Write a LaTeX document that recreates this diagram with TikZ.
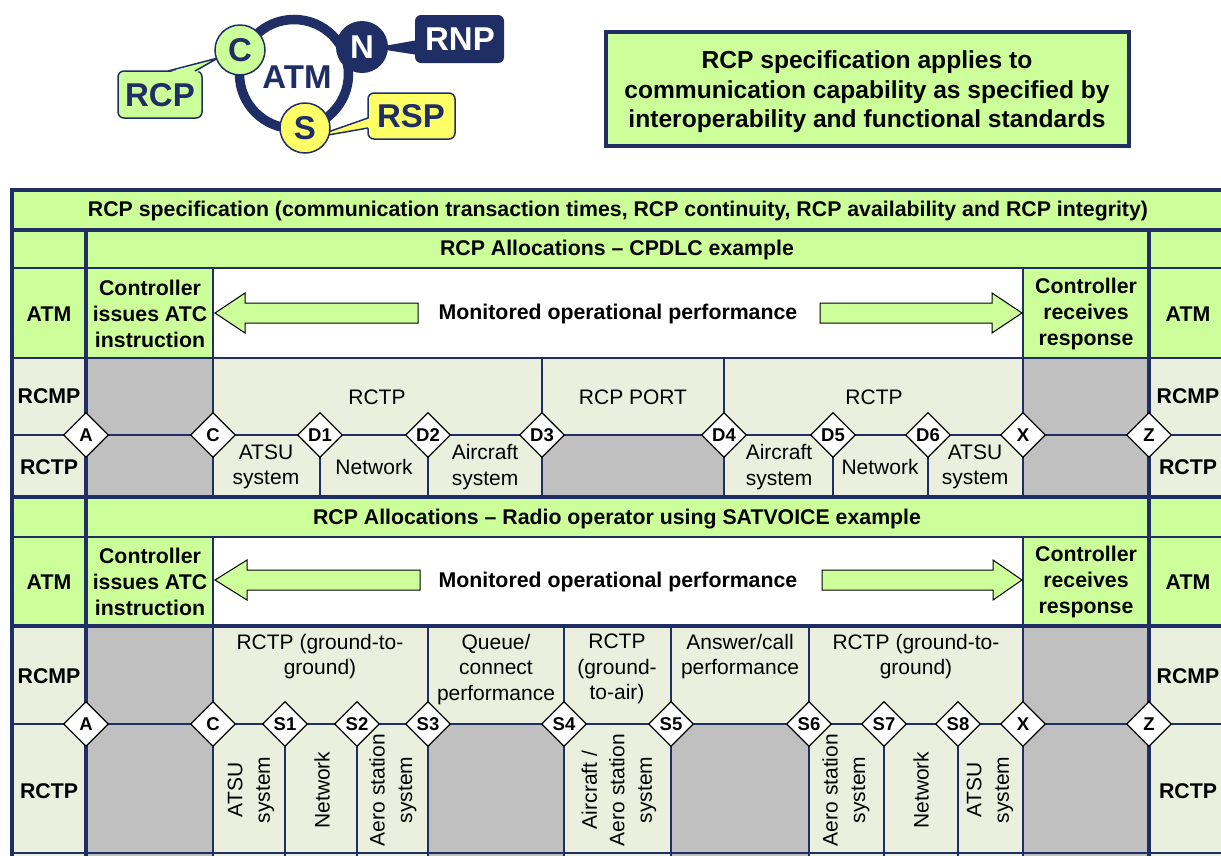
\documentclass[tikz,border=0pt]{standalone}
\usepackage{fontspec}
\setmainfont{Liberation Sans}
\usetikzlibrary{shapes.geometric}
\definecolor{navy}{RGB}{31,47,102}
\definecolor{lgreen}{RGB}{204,255,153}
\definecolor{beige}{RGB}{235,240,222}
\definecolor{cgrey}{RGB}{192,192,192}
\definecolor{lyellow}{RGB}{255,255,102}
\begin{document}
\begin{tikzpicture}[x=1pt,y=-1pt,
  tline/.style={navy,line width=4.5pt},
  nline/.style={navy,line width=1.3pt},
  bt/.style={font=\fontsize{21.3}{26}\selectfont\bfseries,align=center,inner sep=0pt},
  rt/.style={font=\fontsize{21}{25.5}\selectfont,align=center,inner sep=0pt},
  rtv/.style={font=\fontsize{21}{27.5}\selectfont,align=center,inner sep=0pt,rotate=90},
  logot/.style={font=\fontsize{33}{34}\selectfont\bfseries,inner sep=0pt},
  dia/.style={diamond,draw=black,fill=white,line width=1.2pt,minimum width=45pt,minimum height=45pt,inner sep=0pt,font=\fontsize{18.5}{20}\selectfont\bfseries},
  blockarrow/.style={fill=lgreen,draw=black,line width=1pt},
]
\clip (0,0) rectangle (1221,855);
\fill[white] (0,0) rectangle (1221,855);

% ---------- logo ----------
\draw[navy,line width=9.5pt] (294,74) circle (54.5);
% RCP callout
\filldraw[fill=lgreen,draw=navy,line width=1.5pt,rounded corners=6pt] (118,71) rectangle (202,118);
\fill[lgreen] (167,73) -- (218,58) -- (196,73) -- cycle;
\draw[navy,line width=1.5pt] (168,71) -- (218,58) -- (195,71);
% RNP callout
\fill[navy,rounded corners=6pt] (415,15) rectangle (504,63);
\fill[navy] (384,46) -- (418,40) -- (418,55) -- (386,50) -- cycle;
% RSP callout
\filldraw[fill=lyellow,draw=navy,line width=1.5pt,rounded corners=6pt] (368,93) rectangle (455,139);
\fill[lyellow] (328,132) -- (370,118) -- (370,128) -- (328,135) -- cycle;
\draw[navy,line width=1.5pt] (328,132) -- (368,118);
\draw[navy,line width=1.5pt] (328,135) -- (368,128);
% circles
\node[circle,fill=lgreen,draw=navy,line width=1.5pt,minimum size=50pt,inner sep=0pt] (cC) at (240,50) {};
\node[circle,fill=navy,minimum size=52pt,inner sep=0pt] (cN) at (362,47) {};
\node[circle,fill=lyellow,draw=navy,line width=1.5pt,minimum size=50pt,inner sep=0pt] (cS) at (305,128) {};
\node[logot,text=navy] (tC) at (240,50) {C};
\node[logot,text=white] (tN) at (362,47) {N};
\node[logot,text=navy] (tS) at (305,128) {S};
\node[logot,text=navy] (tATM) at (297,77) {ATM};
\node[logot,text=navy] (tRCP) at (160,95) {RCP};
\node[logot,text=white] (tRNP) at (460,39) {RNP};
\node[logot,text=navy] (tRSP) at (411,116) {RSP};

% ---------- top right box ----------
\draw[navy,line width=4pt,fill=lgreen] (605.5,32) rectangle (1128.5,146);
\node[font=\fontsize{24.6}{29.5}\selectfont\bfseries,align=center,inner sep=0pt] (spec) at (867,92)
  {RCP specification applies to\\communication capability as specified by\\interoperability and functional standards};

% ---------- table fills ----------
\fill[lgreen] (12,190) rectangle (1230,358);
\fill[white] (213,268) rectangle (1023,358);
\fill[beige] (12,358) rectangle (1230,497);
\fill[cgrey] (86,358) rectangle (213,497);
\fill[cgrey] (542,435) rectangle (724,497);
\fill[cgrey] (1023,358) rectangle (1149,497);
\fill[lgreen] (12,497) rectangle (1230,626);
\fill[white] (213,537) rectangle (1023,626);
\fill[beige] (12,626) rectangle (1230,860);
\fill[cgrey] (86,626) rectangle (213,860);
\fill[cgrey] (428,724) rectangle (564,860);
\fill[cgrey] (671,724) rectangle (809,860);
\fill[cgrey] (1023,626) rectangle (1149,860);

% ---------- thin lines ----------
\foreach \yy in {268,358,435,537,724,853} \draw[nline] (12,\yy) -- (1230,\yy);
\draw[nline] (213,268) -- (213,497);
\draw[nline] (1023,268) -- (1023,497);
\foreach \xx in {542,724} \draw[nline] (\xx,358) -- (\xx,497);
\foreach \xx in {320,428,833,928} \draw[nline] (\xx,435) -- (\xx,497);
\foreach \xx in {213,1023} \draw[nline] (\xx,537) -- (\xx,860);
\foreach \xx in {428,564,671,809} \draw[nline] (\xx,626) -- (\xx,860);
\foreach \xx in {285,357,884,958} \draw[nline] (\xx,724) -- (\xx,860);

% ---------- thick lines ----------
\draw[tline] (12,190) -- (1230,190);
\draw[tline] (12,188) -- (12,860);
\foreach \yy in {230,497,626} \draw[tline] (12,\yy) -- (1230,\yy);
\foreach \xx in {86,1149} \draw[tline] (\xx,230) -- (\xx,860);

% ---------- block arrows ----------
\filldraw[blockarrow] (215,313) -- (245,293) -- (245,303) -- (418,303) -- (418,323) -- (245,323) -- (245,333) -- cycle;
\filldraw[blockarrow] (1022,313) -- (992,293) -- (992,303) -- (820,303) -- (820,323) -- (992,323) -- (992,333) -- cycle;
\filldraw[blockarrow] (215,580) -- (247,560) -- (247,570) -- (420,570) -- (420,590) -- (247,590) -- (247,600) -- cycle;
\filldraw[blockarrow] (1022,580) -- (993,560) -- (993,570) -- (822,570) -- (822,590) -- (993,590) -- (993,600) -- cycle;

% ---------- header texts ----------
\node[bt] (hspec) at (618,211) {RCP specification (communication transaction times, RCP continuity, RCP availability and RCP integrity)};
\node[bt] (hcp) at (617,250) {RCP Allocations -- CPDLC example};
\node[bt] (hsv) at (617,519) {RCP Allocations -- Radio operator using SATVOICE example};

% ATM rows
\node[bt] (atmL1) at (49,314) {ATM};
\node[bt] (ciL1) at (150,314) {Controller\\issues ATC\\instruction};
\node[bt] (mop1) at (618,314) {Monitored operational performance};
\node[bt] (crR1) at (1086,314) {Controller\\receives\\response};
\node[bt] (atmR1) at (1188,314) {ATM};
\node[bt] (atmL2) at (49,582) {ATM};
\node[bt] (ciL2) at (150,582) {Controller\\issues ATC\\instruction};
\node[bt] (mop2) at (618,582) {Monitored operational performance};
\node[bt] (crR2) at (1086,582) {Controller\\receives\\response};
\node[bt] (atmR2) at (1188,582) {ATM};

% side labels
\node[bt] (rcmpL1) at (49,396) {RCMP};
\node[bt] (rctpL1) at (49,467) {RCTP};
\node[bt] (rcmpR1) at (1188,396) {RCMP};
\node[bt] (rctpR1) at (1188,467) {RCTP};
\node[bt] (rcmpL2) at (49,676) {RCMP};
\node[bt] (rctpL2) at (49,791) {RCTP};
\node[bt] (rcmpR2) at (1188,676) {RCMP};
\node[bt] (rctpR2) at (1188,791) {RCTP};

% section 1 cells
\node[rt] (s1a) at (377,397) {RCTP};
\node[rt] (s1b) at (633,397) {RCP PORT};
\node[rt] (s1c) at (874,397) {RCTP};
\node[rt] (s1d) at (266,467) {ATSU\\system};
\node[rt] (s1e) at (374,467) {Network};
\node[rt] (s1f) at (485,467) {Aircraft\\system};
\node[rt] (s1g) at (779,467) {Aircraft\\system};
\node[rt] (s1h) at (880,467) {Network};
\node[rt] (s1i) at (975,467) {ATSU\\system};

% section 2 cells
\node[rt,anchor=north] (s2a) at (320,634) {RCTP (ground-to-\\ground)};
\node[rt,anchor=north] (s2b) at (496,634) {Queue/\\connect\\performance};
\node[rt,anchor=north] (s2c) at (617,634) {RCTP\\(ground-\\to-air)};
\node[rt,anchor=north] (s2d) at (740,634) {Answer/call\\performance};
\node[rt,anchor=north] (s2e) at (916,634) {RCTP (ground-to-\\ground)};
\node[rtv] (s2f) at (251,790) {ATSU\\system};
\node[rtv] (s2g) at (322,790) {Network};
\node[rtv] (s2h) at (393,790) {Aero station\\system};
\node[rtv] (s2i) at (619,790) {Aircraft /\\Aero station\\system};
\node[rtv] (s2j) at (846,790) {Aero station\\system};
\node[rtv] (s2k) at (921,790) {Network};
\node[rtv] (s2l) at (990,790) {ATSU\\system};

% ---------- diamonds ----------
\node[dia] (dA1) at (86,435) {A};
\node[dia] (dC1) at (213,435) {C};
\node[dia] (dD1) at (320,435) {D1};
\node[dia] (dD2) at (428,435) {D2};
\node[dia] (dD3) at (542,435) {D3};
\node[dia] (dD4) at (724,435) {D4};
\node[dia] (dD5) at (833,435) {D5};
\node[dia] (dD6) at (928,435) {D6};
\node[dia] (dX1) at (1023,435) {X};
\node[dia] (dZ1) at (1149,435) {Z};
\node[dia] (dA2) at (86,724) {A};
\node[dia] (dC2) at (213,724) {C};
\node[dia] (dS1) at (285,724) {S1};
\node[dia] (dS2) at (357,724) {S2};
\node[dia] (dS3) at (428,724) {S3};
\node[dia] (dS4) at (564,724) {S4};
\node[dia] (dS5) at (671,724) {S5};
\node[dia] (dS6) at (809,724) {S6};
\node[dia] (dS7) at (884,724) {S7};
\node[dia] (dS8) at (958,724) {S8};
\node[dia] (dX2) at (1023,724) {X};
\node[dia] (dZ2) at (1149,724) {Z};
\end{tikzpicture}
\end{document}
